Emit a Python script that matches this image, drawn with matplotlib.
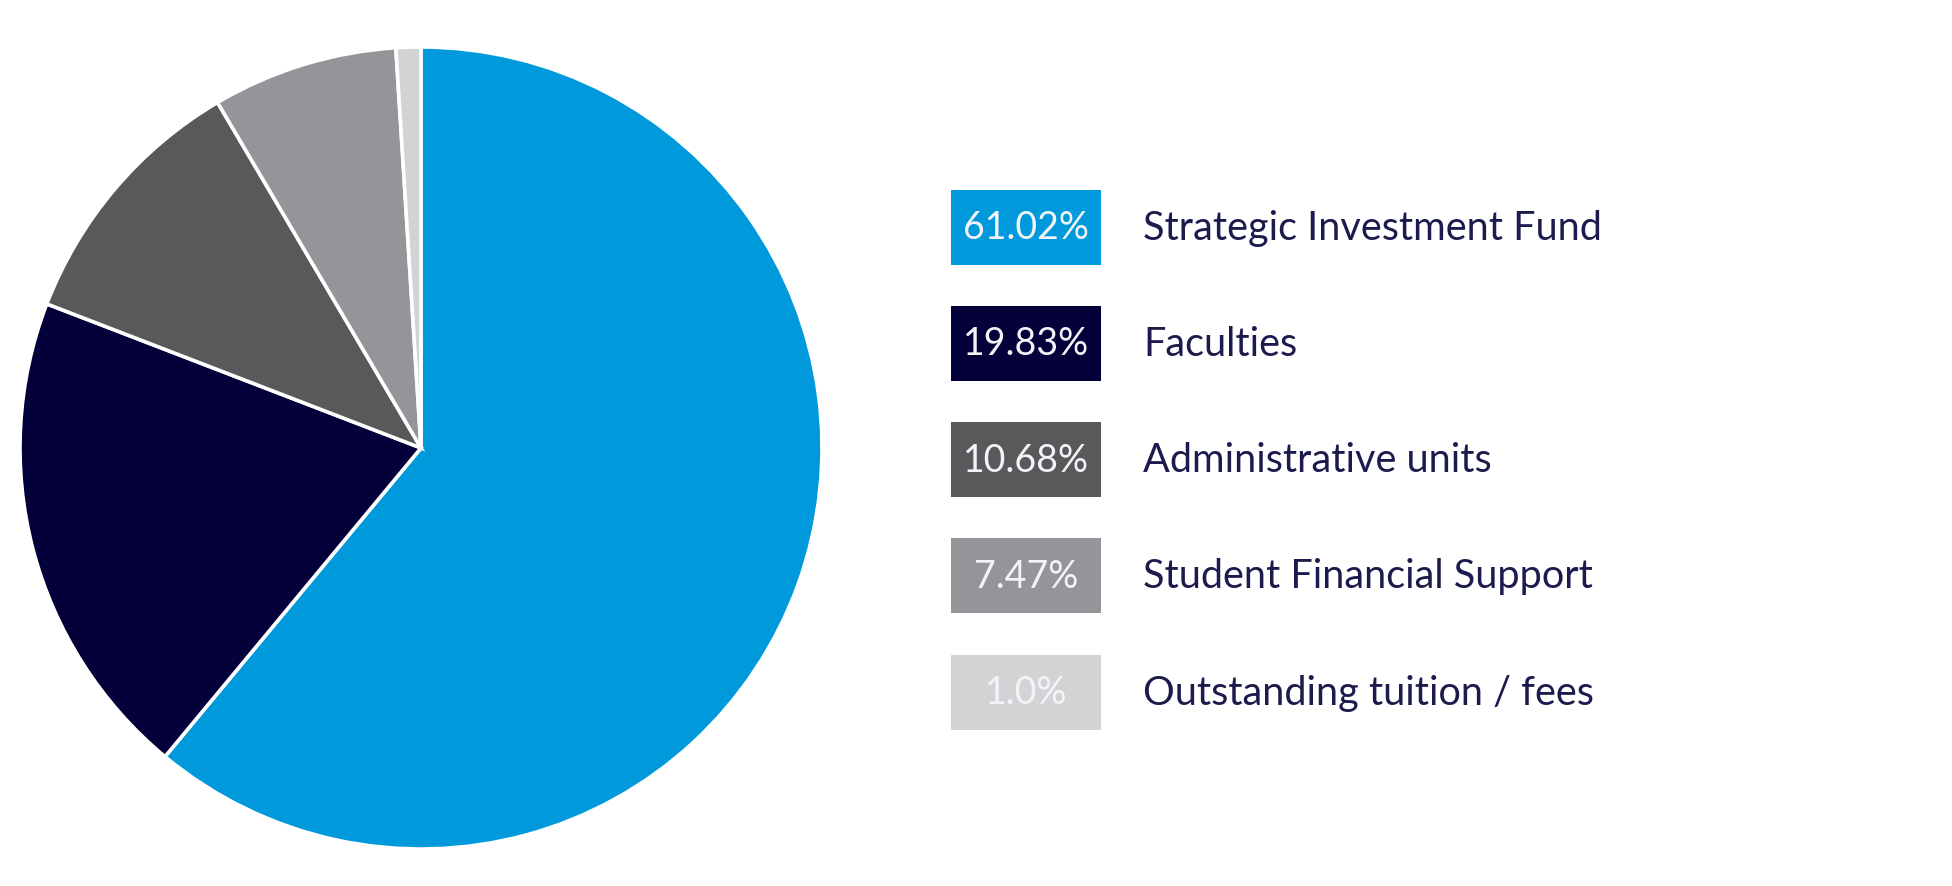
import matplotlib
matplotlib.use("Agg")
import matplotlib.pyplot as plt
from matplotlib.patches import Rectangle

categories = ["Strategic Investment Fund", "Faculties", "Administrative units",
              "Student Financial Support", "Outstanding tuition / fees"]
values = [61.02, 19.83, 10.68, 7.47, 1.0]
value_labels = ["61.02%", "19.83%", "10.68%", "7.47%", "1.0%"]
colors = ["#0099DC", "#03003A", "#58595B", "#939598", "#D1D3D4"]

W, H = 1952, 886
fig = plt.figure(figsize=(W / 100, H / 100), dpi=100)
fig.patch.set_facecolor("white")

# pie
cx, cy, r = 421, 448, 401
ax = fig.add_axes([(cx - r) / W, (H - cy - r) / H, 2 * r / W, 2 * r / H])
ax.pie(values, colors=colors, startangle=90, counterclock=False,
       wedgeprops=dict(edgecolor="white", linewidth=2.6))
ax.set_xlim(-1, 1)
ax.set_ylim(-1, 1)
ax.set_aspect("equal")
ax.axis("off")

# legend
lax = fig.add_axes([0, 0, 1, 1])
lax.set_xlim(0, W)
lax.set_ylim(H, 0)
lax.axis("off")
box_x, box_w, box_h = 951, 150, 75
y0, dy = 227, 116.3
font = "Lato"
for i, (cat, lab, col) in enumerate(zip(categories, value_labels, colors)):
    yc = y0 + i * dy
    lax.add_patch(Rectangle((box_x, yc - box_h / 2), box_w, box_h, facecolor=col, edgecolor="none"))
    lax.text(box_x + box_w / 2, yc + 1, lab, ha="center", va="center",
             color="#F2F4F7", fontsize=27, family=font)
    lax.text(1143, yc + 1, cat, ha="left", va="center",
             color="#1C1B4D", fontsize=28.5, family=font)

fig.savefig("out.png", dpi=100, facecolor="white")
